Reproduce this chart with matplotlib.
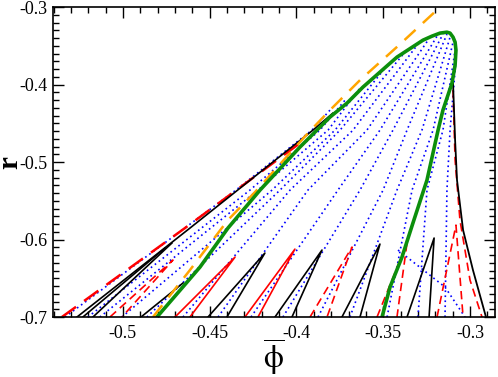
import matplotlib
matplotlib.use("Agg")
import matplotlib.pyplot as plt
from matplotlib.ticker import FixedLocator, FixedFormatter, MultipleLocator

plt.rcParams['font.family'] = ['Liberation Serif', 'DejaVu Serif']
plt.rcParams['mathtext.fontset'] = 'stix'

# green coexistence curve
green_x = [-0.4804, -0.466, -0.4556, -0.4395, -0.421, -0.398, -0.3807, -0.3709, -0.3617,
           -0.3421, -0.3271, -0.3219, -0.3173, -0.3133, -0.3115, -0.3098, -0.3086, -0.3081,
           -0.3086, -0.3104, -0.3156, -0.3184, -0.3248, -0.3329, -0.3392, -0.3461, -0.3507]
green_y = [-0.7, -0.6626, -0.6355, -0.5852, -0.5361, -0.4806, -0.4419, -0.4239, -0.4032,
           -0.3645, -0.3426, -0.3374, -0.3335, -0.3323, -0.3335, -0.3387, -0.3452, -0.3555,
           -0.3748, -0.3981, -0.4329, -0.4587, -0.5232, -0.5787, -0.6226, -0.6613, -0.7]

# orange dashed curve
orange_x = [-0.4827, -0.4614, -0.4395, -0.4239, -0.4084, -0.3939, -0.3807, -0.3634, -0.3403, -0.3173]
orange_y = [-0.7, -0.6394, -0.5748, -0.5387, -0.5, -0.4639, -0.4329, -0.3942, -0.3477, -0.3]

# upper-left envelope
env_black_x = [-0.5265, -0.4614, -0.3905, -0.379]
env_black_y = [-0.7, -0.5852, -0.4587, -0.4368]
env_red_x = [-0.5352, -0.4643, -0.398]
env_red_y = [-0.7, -0.5852, -0.4755]

# single black branches on the left
black_lines = [
    ([-0.5231, -0.4758], [-0.7, -0.611]),
    ([-0.5173, -0.4718], [-0.7, -0.6045]),
    ([-0.4896, -0.4654], [-0.7, -0.6561]),
]

# wedges: left foot, tip x, tip y, right foot, colour, style
wedge_left = [-0.5075, -0.47, -0.451, -0.4297, -0.4124, -0.3922, -0.3738, -0.3536, -0.3363, -0.319]
wedge_tip_x = [-0.4712, -0.4354, -0.4182, -0.4009, -0.3853, -0.368, -0.3519, -0.3363, -0.3207, -0.3081]
wedge_tip_y = [-0.6265, -0.6226, -0.6174, -0.6123, -0.6135, -0.6097, -0.6058, -0.6045, -0.598, -0.5813]
wedge_right = [-0.5006, -0.4614, -0.4401, -0.4222, -0.4026, -0.3824, -0.3634, -0.3421, -0.3236, -0.304]
wedge_color = ['red', 'red', 'black', 'red', 'black', 'red', 'black', 'red', 'black', 'red']
wedge_style = ['--', '-', '-', '-', '-', '--', '-', '--', '-', '--']

# right-hand branches
right_black_x = [-0.3098, -0.3086, -0.3075, -0.304, -0.2983, -0.2908]
right_black_y = [-0.3968, -0.4716, -0.5232, -0.5877, -0.6394, -0.7]
right_red_x = [-0.3098, -0.3086, -0.3058, -0.3, -0.2931]
right_red_y = [-0.4071, -0.4974, -0.5748, -0.6523, -0.7]

# blue dotted tie lines: x at r=-0.7, r=-0.5361, r=-0.4587, then top point
tie_foot = [-0.5334, -0.5202, -0.5133, -0.5006, -0.4862, -0.4654, -0.4452, -0.4262, -0.4078,
            -0.3876, -0.3692, -0.3478, -0.33, -0.3144]
tie_mid1 = [-0.4349, -0.4268, -0.4222, -0.4141, -0.4095, -0.4037, -0.3934, -0.3761, -0.3634,
            -0.3501, -0.3421, -0.3334, -0.3248, -0.3133]
tie_mid2 = [-0.3911, -0.3865, -0.3818, -0.3778, -0.3749, -0.3674, -0.3594, -0.3519, -0.3444,
            -0.3363, -0.3277, -0.3213, -0.3156, -0.3115]
tie_top_x = [-0.3807, -0.372, -0.3634, -0.3490, -0.3375, -0.33, -0.3242, -0.3190, -0.3156,
             -0.3133, -0.3115, -0.3098, -0.3086, -0.3081]
tie_top_y = [-0.4329, -0.42, -0.4045, -0.3787, -0.3581, -0.3477, -0.3426, -0.3374, -0.3348,
             -0.3348, -0.3387, -0.3452, -0.3555, -0.3684]
cross_x = [-0.3415, -0.3144, -0.3029]
cross_y = [-0.6135, -0.6613, -0.7]

fig = plt.figure(figsize=(4.98, 3.77), dpi=100)
ax = fig.add_axes([0.1064, 0.159, 0.8876, 0.822])

for i in range(len(tie_foot)):
    xs = [tie_foot[i], tie_mid1[i], tie_mid2[i], tie_top_x[i]]
    ys = [-0.7, -0.5361, -0.4587, tie_top_y[i]]
    ax.plot(xs, ys, color='blue', ls=(0, (1, 2)), lw=1.2)
ax.plot(cross_x, cross_y, color='blue', ls=(0, (1, 2)), lw=1.2)

ax.plot(env_red_x, env_red_y, color='red', ls=(0, (7, 4)), lw=1.8)
ax.plot(env_black_x, env_black_y, color='black', lw=1.2)
for xs, ys in black_lines:
    ax.plot(xs, ys, color='black', lw=1.2)

for i in range(len(wedge_left)):
    ls = (0, (5, 3)) if wedge_style[i] == '--' else '-'
    ax.plot([wedge_left[i], wedge_tip_x[i], wedge_right[i]], [-0.7, wedge_tip_y[i], -0.7],
            color=wedge_color[i], ls=ls, lw=1.2)

ax.plot(right_red_x, right_red_y, color='red', ls=(0, (5, 3)), lw=1.2)
ax.plot(right_black_x, right_black_y, color='black', lw=1.3)

ax.plot(orange_x, orange_y, color='orange', ls=(0, (6, 4)), lw=1.8)
ax.plot(green_x, green_y, color='#0c8f0c', lw=2.6, solid_capstyle='round')

ax.set_xlim(-0.5403, -0.2856)
ax.set_ylim(-0.7, -0.3)

xt = [-0.5, -0.45, -0.4, -0.35, -0.3]
yt = [-0.7, -0.6, -0.5, -0.4, -0.3]
ax.xaxis.set_major_locator(FixedLocator(xt))
ax.xaxis.set_major_formatter(FixedFormatter(['-0.5', '-0.45', '-0.4', '-0.35', '-0.3']))
ax.yaxis.set_major_locator(FixedLocator(yt))
ax.yaxis.set_major_formatter(FixedFormatter(['-0.7', '-0.6', '-0.5', '-0.4', '-0.3']))
ax.xaxis.set_minor_locator(MultipleLocator(0.01))
ax.yaxis.set_minor_locator(MultipleLocator(0.01))
ax.tick_params(which='both', direction='in', top=True, right=True, labelsize=13, width=1)
ax.tick_params(which='major', length=8)
ax.tick_params(which='minor', length=4)
ax.tick_params(axis='y', pad=4)
ax.tick_params(axis='x', pad=6)
for s in ax.spines.values():
    s.set_linewidth(1.2)

ax.set_xlabel(r'$\overline{\mathrm{\phi}}$', fontsize=23)
ax.xaxis.set_label_coords(0.5, -0.065)
ax.set_ylabel('r', fontsize=21, fontweight='bold')
ax.yaxis.set_label_coords(-0.068, 0.5)

fig.savefig('out.png', dpi=100)
